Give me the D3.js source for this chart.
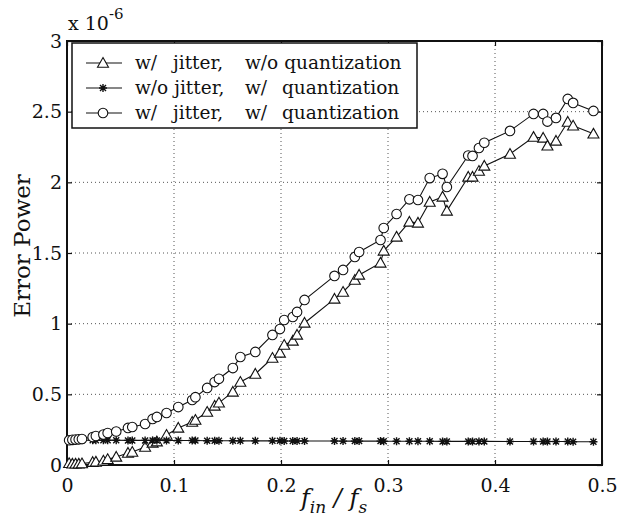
<!DOCTYPE html>
<html>
<head>
<meta charset="utf-8">
<script src="https://cdn.jsdelivr.net/npm/d3@7"></script>
<style>
body { margin: 0; background: #fff; }
svg text { font-family: "DejaVu Serif", serif; fill: #111; }
</style>
</head>
<body>
<div id="showChart"></div>
<script>
// normalized input frequency (f_in / f_s), shared by all three runs
var freqs = [0.002, 0.005, 0.008, 0.011, 0.014, 0.024, 0.027, 0.034, 0.038, 0.046,
  0.057, 0.061, 0.073, 0.080, 0.084, 0.093, 0.104, 0.117, 0.120, 0.131,
  0.138, 0.142, 0.155, 0.162, 0.176, 0.192, 0.199, 0.203, 0.211, 0.215,
  0.222, 0.250, 0.258, 0.269, 0.273, 0.293, 0.296, 0.308, 0.320, 0.328,
  0.339, 0.351, 0.355, 0.375, 0.379, 0.385, 0.390, 0.414, 0.436, 0.445,
  0.449, 0.457, 0.468, 0.473, 0.492];

// error power, units of 1e-6
var jitterNoQuant = [0.012, 0.008, 0.008, 0.008, 0.010, 0.020, 0.022, 0.030, 0.040, 0.057,
  0.085, 0.092, 0.127, 0.156, 0.165, 0.212, 0.262, 0.304, 0.318, 0.375,
  0.418, 0.440, 0.517, 0.587, 0.644, 0.757, 0.793, 0.849, 0.878, 0.920,
  1.005, 1.175, 1.224, 1.309, 1.345, 1.430, 1.515, 1.614, 1.720, 1.713,
  1.861, 1.897, 1.798, 2.038, 2.038, 2.080, 2.116, 2.200, 2.320, 2.314,
  2.258, 2.293, 2.427, 2.400, 2.343];

var quantNoJitter = [0.176, 0.176, 0.176, 0.176, 0.176, 0.175, 0.175, 0.175, 0.175, 0.175,
  0.174, 0.174, 0.174, 0.174, 0.174, 0.173, 0.173, 0.173, 0.173, 0.172,
  0.172, 0.172, 0.172, 0.171, 0.171, 0.171, 0.171, 0.170, 0.170, 0.170,
  0.170, 0.170, 0.169, 0.169, 0.169, 0.169, 0.168, 0.168, 0.168, 0.168,
  0.168, 0.167, 0.167, 0.167, 0.167, 0.167, 0.167, 0.166, 0.166, 0.166,
  0.166, 0.166, 0.166, 0.165, 0.165];

var jitterQuant = [0.175, 0.178, 0.180, 0.182, 0.184, 0.198, 0.205, 0.215, 0.226, 0.237,
  0.262, 0.269, 0.290, 0.326, 0.340, 0.368, 0.410, 0.460, 0.480, 0.545,
  0.587, 0.610, 0.686, 0.764, 0.800, 0.920, 0.962, 1.026, 1.047, 1.083,
  1.168, 1.338, 1.380, 1.472, 1.507, 1.592, 1.677, 1.776, 1.880, 1.875,
  2.030, 2.060, 1.967, 2.190, 2.187, 2.243, 2.280, 2.364, 2.484, 2.484,
  2.430, 2.456, 2.590, 2.562, 2.505];

var xTicks = [0, 0.1, 0.2, 0.3, 0.4, 0.5];
var yTicks = [0, 0.5, 1, 1.5, 2, 2.5, 3];
var legendLabels = [
  ["w/", "jitter,", "w/o", "quantization"],
  ["w/o", "jitter,", "w/", "quantization"],
  ["w/", "jitter,", "w/", "quantization"]
];
var markerTypes = ["triangle", "star", "circle"];

var width = 619, height = 524;
var margin = { left: 67, right: 17, top: 41, bottom: 59 };
var plotW = width - margin.left - margin.right;
var plotH = height - margin.top - margin.bottom;

var svg = d3.select("#showChart").append("svg")
  .attr("width", width)
  .attr("height", height);

var x = d3.scaleLinear().domain([0, 0.5]).range([0, plotW]);
var y = d3.scaleLinear().domain([0, 3]).range([plotH, 0]);

var g = svg.append("g")
  .attr("transform", "translate(" + margin.left + "," + margin.top + ")");

// dotted grid
g.selectAll(".vgrid").data(xTicks.slice(1, -1)).enter().append("line")
  .attr("x1", function(d) { return x(d); })
  .attr("x2", function(d) { return x(d); })
  .attr("y1", 0).attr("y2", plotH)
  .attr("stroke", "#555").attr("stroke-width", 1)
  .attr("stroke-dasharray", "1,3");
g.selectAll(".hgrid").data(yTicks.slice(1, -1)).enter().append("line")
  .attr("y1", function(d) { return y(d); })
  .attr("y2", function(d) { return y(d); })
  .attr("x1", 0).attr("x2", plotW)
  .attr("stroke", "#555").attr("stroke-width", 1)
  .attr("stroke-dasharray", "1,3");

// axes, ticks pointing inward like matlab
g.append("g").attr("transform", "translate(0," + plotH + ")")
  .call(d3.axisBottom(x).tickValues(xTicks).tickSizeInner(-5).tickSizeOuter(0).tickPadding(14).tickFormat(d3.format("")));
g.append("g")
  .call(d3.axisTop(x).tickValues(xTicks).tickSizeInner(-5).tickSizeOuter(0).tickFormat(""));
g.append("g")
  .call(d3.axisLeft(y).tickValues(yTicks).tickSizeInner(-5).tickSizeOuter(0).tickPadding(5).tickFormat(d3.format("")));
g.append("g").attr("transform", "translate(" + plotW + ",0)")
  .call(d3.axisRight(y).tickValues(yTicks).tickSizeInner(-5).tickSizeOuter(0).tickFormat(""));

g.selectAll(".domain").remove();
g.selectAll(".tick line").attr("stroke", "#111").attr("stroke-width", 1.2);
g.selectAll(".tick text")
  .style("font-family", "'DejaVu Serif', serif")
  .style("font-size", "19px")
  .attr("fill", "#111");

g.append("rect")
  .attr("width", plotW).attr("height", plotH)
  .attr("fill", "none").attr("stroke", "#111").attr("stroke-width", 2);

// marker drawing
function drawMarker(sel, type) {
  if (type == "triangle") {
    sel.append("path").attr("d", "M0,-5.5L5.5,4.2L-5.5,4.2Z")
      .attr("fill", "white").attr("stroke", "#111").attr("stroke-width", 1.1);
  } else if (type == "circle") {
    sel.append("circle").attr("r", 4.8)
      .attr("fill", "white").attr("stroke", "#111").attr("stroke-width", 1.1);
  } else {
    sel.append("path").attr("d", "M-4,0L4,0M0,-4L0,4M-3,-3L3,3M-3,3L3,-3")
      .attr("stroke", "#111").attr("stroke-width", 1.4);
  }
}

var seriesList = [jitterNoQuant, quantNoJitter, jitterQuant];
var line = d3.line()
  .x(function(d) { return x(d[0]); })
  .y(function(d) { return y(d[1]); });

for (var s = 0; s < seriesList.length; s++) {
  var pts = freqs.map(function(f, i) { return [f, seriesList[s][i]]; });
  g.append("path").datum(pts)
    .attr("d", line)
    .attr("fill", "none").attr("stroke", "#111").attr("stroke-width", 1.1);
  var mk = g.selectAll(".mk" + s).data(pts).enter().append("g")
    .attr("transform", function(d) { return "translate(" + x(d[0]) + "," + y(d[1]) + ")"; });
  drawMarker(mk, markerTypes[s]);
}

// legend, words laid out in columns like the original
var leg = g.append("g").attr("transform", "translate(5,2)");
leg.append("rect")
  .attr("width", 345).attr("height", 85)
  .attr("fill", "white").attr("stroke", "#111").attr("stroke-width", 1.5);
var colX = [63, 101, 173, 210];
for (var k = 0; k < legendLabels.length; k++) {
  var row = leg.append("g").attr("transform", "translate(0," + (20 + k * 25) + ")");
  row.append("line").attr("x1", 14).attr("x2", 50)
    .attr("stroke", "#111").attr("stroke-width", 1.1);
  drawMarker(row.append("g").attr("transform", "translate(31,0)"), markerTypes[k]);
  var prevEnd = 0;
  for (var c = 0; c < 4; c++) {
    var cx = Math.max(colX[c], prevEnd + 6);
    var t = row.append("text").attr("x", cx).attr("y", 6)
      .attr("font-size", 18.5)
      .text(legendLabels[k][c]);
    prevEnd = cx + t.node().getComputedTextLength();
  }
}

// multiplier above the axis
var mult = svg.append("text").attr("x", 68).attr("y", 30).attr("font-size", 19);
mult.append("tspan").text("x 10");
mult.append("tspan").attr("dy", -11).attr("font-size", 15).text("-6");

// axis titles
svg.append("text")
  .attr("transform", "translate(30,246) rotate(-90)")
  .attr("text-anchor", "middle")
  .attr("font-size", 23)
  .text("Error Power");

var xt = svg.append("text")
  .attr("x", 334).attr("y", 506)
  .attr("text-anchor", "middle")
  .attr("font-size", 24)
  .attr("font-style", "italic");
xt.append("tspan").text("f");
xt.append("tspan").attr("dy", 7).attr("font-size", 17).text("in");
xt.append("tspan").attr("dy", -7).text(" / f");
xt.append("tspan").attr("dy", 7).attr("font-size", 17).text("s");
</script>
</body>
</html>
